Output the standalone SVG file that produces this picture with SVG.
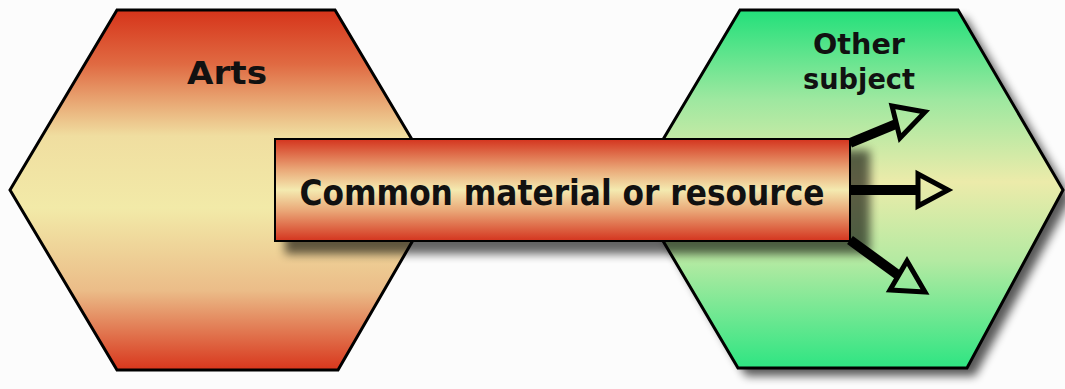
<svg xmlns="http://www.w3.org/2000/svg" width="1065" height="389" viewBox="0 0 1065 389">
  <defs>
    <linearGradient id="gArts" x1="0" y1="10" x2="0" y2="370" gradientUnits="userSpaceOnUse">
      <stop offset="0" stop-color="#d6341a"/>
      <stop offset="0.15" stop-color="#e06a42"/>
      <stop offset="0.35" stop-color="#f0dea0"/>
      <stop offset="0.55" stop-color="#f2eaa8"/>
      <stop offset="0.78" stop-color="#ebbc88"/>
      <stop offset="1" stop-color="#d8361c"/>
    </linearGradient>
    <linearGradient id="gOther" x1="0" y1="10" x2="0" y2="368" gradientUnits="userSpaceOnUse">
      <stop offset="0" stop-color="#22e07a"/>
      <stop offset="0.25" stop-color="#9ee8a0"/>
      <stop offset="0.48" stop-color="#ecebaa"/>
      <stop offset="0.7" stop-color="#b4eaa2"/>
      <stop offset="1" stop-color="#2ee582"/>
    </linearGradient>
    <linearGradient id="gBar" x1="0" y1="139" x2="0" y2="241" gradientUnits="userSpaceOnUse">
      <stop offset="0" stop-color="#d4341e"/>
      <stop offset="0.3" stop-color="#eaa878"/>
      <stop offset="0.5" stop-color="#f4eab0"/>
      <stop offset="0.7" stop-color="#eaa878"/>
      <stop offset="1" stop-color="#d4341e"/>
    </linearGradient>
    <filter id="shadow" x="-20%" y="-20%" width="140%" height="140%">
      <feGaussianBlur stdDeviation="5"/>
    </filter>
    <style>
      .hex { stroke: #000; stroke-width: 3; stroke-linejoin: miter; }
      .lbl { font-family: "DejaVu Sans", "Liberation Sans", sans-serif; font-weight: bold; fill: #111; text-anchor: middle; }
      .conn { stroke: #000; stroke-width: 10; fill: none; }
      .head { stroke: #000; stroke-width: 5; fill: none; stroke-linejoin: miter; }
    </style>
  </defs>
  <rect x="0" y="0" width="1065" height="389" fill="#fcfcfc"/>

  <g id="arts">
    <polygon class="hex" points="117,10 335,10 442,190 338,370 117,370 10,190" fill="url(#gArts)"/>
    <text class="lbl" x="227" y="84" font-size="32" textLength="80" lengthAdjust="spacingAndGlyphs">Arts</text>
  </g>

  <g id="other">
    <polygon points="748,18 966,18 1071,198 975,376 746,376 641,198" fill="#000" opacity="0.65" filter="url(#shadow)"/>
    <polygon class="hex" points="740,10 958,10 1063,190 967,368 738,368 633,190" fill="url(#gOther)"/>
    <text class="lbl" x="859" y="54" font-size="29" textLength="92" lengthAdjust="spacingAndGlyphs">Other</text>
    <text class="lbl" x="859" y="89" font-size="29" textLength="112" lengthAdjust="spacingAndGlyphs">subject</text>
  </g>

  <g id="common">
    <rect x="285" y="150" width="585" height="104" fill="#000" opacity="0.6" filter="url(#shadow)"/>
    <rect x="275" y="139" width="575" height="102" fill="url(#gBar)" stroke="#000" stroke-width="2"/>
    <text class="lbl" x="562" y="205" font-size="36" textLength="525" lengthAdjust="spacingAndGlyphs">Common material or resource</text>
  </g>

  <g id="connectors">
    <line class="conn" x1="850" y1="143" x2="896" y2="124"/>
    <polygon class="head" points="892,106 925,112 900,138"/>
    <line class="conn" x1="850" y1="190" x2="918" y2="190"/>
    <polygon class="head" points="918,174 948,190 918,206"/>
    <line class="conn" x1="850" y1="240" x2="898" y2="275"/>
    <polygon class="head" points="907,261 925,292 890,290"/>
  </g>
</svg>
